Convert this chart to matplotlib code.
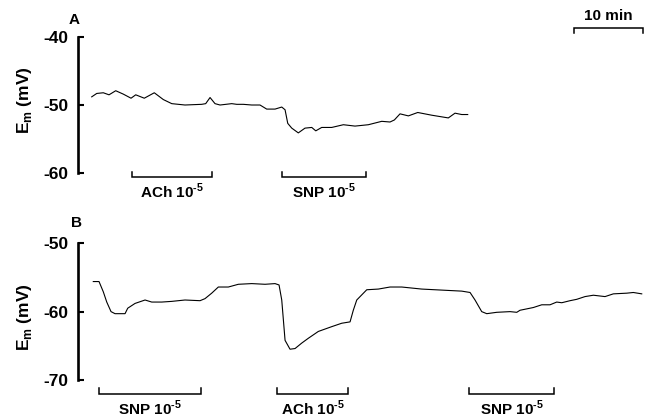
"""Membrane potential traces (panels A and B) with drug application bars."""
import numpy as np
import matplotlib
matplotlib.use("Agg")
import matplotlib.pyplot as plt

# --- data (time in min, Em in mV) ---
time_a = [0.1, 0.83, 1.78, 2.61, 3.58, 4.68, 5.8, 6.48, 7.72, 9.17, 10.48, 11.7,
          13.62, 16.04, 16.62, 17.25, 17.97, 18.7, 20.39, 21.12, 22.07, 23.29,
          24.49, 25.46, 26.67, 27.64, 28.12, 28.51, 29.09, 30.04, 31.01, 31.99,
          32.57, 33.43, 34.88, 36.57, 38.26, 40.19, 42.13, 43.33, 43.96, 44.78,
          45.99, 47.35, 49.38, 51.78, 52.75, 53.72, 54.59]
em_a = [-48.8, -48.3, -48.2, -48.5, -47.9, -48.4, -49.0, -48.5, -49.0, -48.2,
        -49.2, -49.8, -50.0, -49.9, -49.8, -48.9, -49.8, -50.0, -49.8, -49.9,
        -49.9, -50.0, -50.0, -50.6, -50.6, -50.3, -50.7, -52.7, -53.4, -54.1,
        -53.4, -53.3, -53.8, -53.3, -53.3, -52.9, -53.1, -52.9, -52.4, -52.5,
        -52.2, -51.3, -51.6, -51.1, -51.5, -51.9, -51.2, -51.4, -51.4]

time_b = [0.33, 1.16, 1.78, 2.28, 2.9, 3.48, 4.93, 5.32, 6.38, 7.83, 8.8, 10.25,
          11.7, 13.62, 15.8, 16.52, 17.49, 18.45, 19.9, 21.35, 23.29, 25.22,
          26.67, 27.25, 27.64, 28.12, 28.84, 29.57, 30.54, 31.49, 32.94, 34.88,
          36.33, 37.54, 38.01, 38.51, 39.96, 41.64, 43.33, 45.03, 46.96, 47.93,
          49.86, 51.78, 53.72, 54.93, 55.65, 56.62, 57.35, 58.8, 60.72, 61.7,
          62.17, 64.1, 65.32, 66.52, 67.49, 68.22, 69.42, 70.39, 71.59, 72.8,
          74.49, 75.7, 77.64, 78.59, 79.81]
em_b = [-55.6, -55.6, -57.1, -58.6, -60.0, -60.3, -60.3, -59.5, -58.8, -58.3,
        -58.6, -58.6, -58.5, -58.3, -58.4, -58.1, -57.3, -56.4, -56.4, -56.0,
        -55.9, -56.0, -55.9, -56.1, -58.3, -64.2, -65.5, -65.4, -64.6, -63.9,
        -62.9, -62.2, -61.7, -61.5, -59.8, -58.3, -56.8, -56.7, -56.4, -56.4,
        -56.6, -56.7, -56.8, -56.9, -57.0, -57.2, -58.3, -60.0, -60.3, -60.1,
        -60.0, -60.1, -59.8, -59.4, -59.0, -59.0, -58.6, -58.7, -58.4, -58.2,
        -57.8, -57.6, -57.8, -57.4, -57.3, -57.2, -57.4]

# drug application periods (start, end in min) and labels
bars_a = [(5.9, 17.5), (27.7, 39.9)]
labels_a = ["ACh", "SNP"]
bars_b = [(1.2, 15.9), (27.0, 37.3), (54.8, 67.1)]
labels_b = ["SNP", "ACh", "SNP"]
scale_bar = (70.0, 80.0)

yticks_a = [-40, -50, -60]
yticks_b = [-50, -60, -70]

plt.rcParams["font.family"] = ["Liberation Sans", "DejaVu Sans"]
plt.rcParams["axes.unicode_minus"] = False
plt.rcParams["mathtext.fontset"] = "custom"
plt.rcParams["mathtext.rm"] = "Liberation Sans:bold"
plt.rcParams["mathtext.bf"] = "Liberation Sans:bold"


def style_axis(ax, ticks, ylim):
    ax.set_xlim(-1.9, 80.4)
    ax.set_ylim(*ylim)
    for side in ("top", "right", "bottom"):
        ax.spines[side].set_visible(False)
    ax.spines["left"].set_linewidth(1.9)
    ax.spines["left"].set_bounds(min(ticks), max(ticks))
    ax.set_xticks([])
    ax.set_yticks(ticks)
    ax.set_yticklabels([str(t) for t in ticks], fontsize=12.5, fontweight="bold")
    ax.tick_params(axis="y", direction="in", length=4, width=1.5, pad=7)
    ax.patch.set_alpha(0)


def bracket(ax, start, end, bar_y, tip_y, label=None):
    ax.plot([start, start, end, end], [tip_y, bar_y, bar_y, tip_y],
            color="black", lw=1.1, solid_joinstyle="miter")
    if label:
        ax.annotate(label + r" 10$^{\text{-5}}$", xy=((start + end) / 2, bar_y),
                    xytext=(0, -3), textcoords="offset points",
                    ha="center", va="top", fontsize=11, fontweight="bold",
                    annotation_clip=False)


def main():
    fig = plt.figure(figsize=(6.46, 4.16), dpi=100)
    ax_a = fig.add_axes([0.1206, 0.5351, 0.8791, 0.4413])
    ax_b = fig.add_axes([0.1206, 0.0373, 0.8791, 0.4272])

    ax_a.plot(time_a, em_a, color="black", lw=0.8)
    style_axis(ax_a, yticks_a, (-63, -36))
    for (s, e), lab in zip(bars_a, labels_a):
        bracket(ax_a, s, e, -60.6, -59.85, lab)
    # 10 min scale bar
    bracket(ax_a, scale_bar[0], scale_bar[1], -38.72, -39.46)
    ax_a.annotate("10 min", xy=(np.mean(scale_bar), -38.72), xytext=(0, 4),
                  textcoords="offset points", ha="center", va="bottom",
                  fontsize=11, fontweight="bold")

    ax_b.plot(time_b, em_b, color="black", lw=0.8)
    style_axis(ax_b, yticks_b, (-73, -47))
    for (s, e), lab in zip(bars_b, labels_b):
        bracket(ax_b, s, e, -72.06, -71.2, lab)

    ylab = r"E$_\mathbf{m}$ (mV)"
    fig.text(25 / 646, 1 - 100 / 416, ylab, rotation=90, ha="center", va="center",
             fontsize=12.5, fontweight="bold")
    fig.text(25 / 646, 1 - 317 / 416, ylab, rotation=90, ha="center", va="center",
             fontsize=12.5, fontweight="bold")
    fig.text(74 / 646, 1 - 20 / 416, "A", ha="center", va="center",
             fontsize=11, fontweight="bold")
    fig.text(77 / 646, 1 - 223 / 416, "B", ha="center", va="center",
             fontsize=11, fontweight="bold")

    fig.savefig("out.png", dpi=100)


if __name__ == "__main__":
    main()
